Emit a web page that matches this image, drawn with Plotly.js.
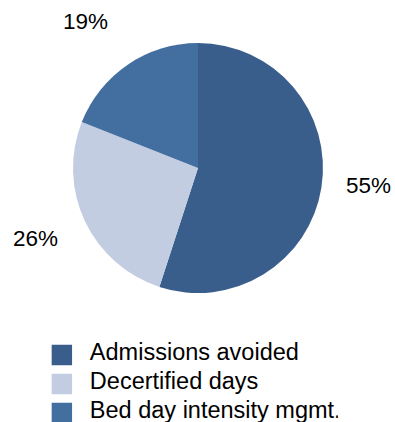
<!DOCTYPE html>
<html>
<head>
<meta charset="utf-8">
<script src="https://cdn.plot.ly/plotly-3.0.1.min.js"></script>
<style>html,body{margin:0;padding:0;background:#fff;}#chart{width:395px;height:422px;}</style>
</head>
<body>
<div id="chart"></div>
<script>
// ---- data ----
var categories = ["Admissions avoided", "Decertified days", "Bed day intensity mgmt."];
var shares = [55, 26, 19];
var sliceColors = ["#3A5E8C", "#C3CDE2", "#426EA0"];

// ---- layout constants ----
var W = 395, H = 422;
var pieDomain = {x: [0.1848, 0.8177], y: [0.3057, 0.898]};
var labelRadiusFactor = [1.37, 1.414, 1.478];   // label distance / pie radius
var labelAngleShift = [-3.1, 1.8, -3.3];         // degrees, nudge from slice middle
var FONT = "Liberation Sans, Arial, sans-serif";

var trace = {
  type: "pie",
  labels: categories,
  values: shares,
  sort: false,
  direction: "clockwise",
  rotation: 0,
  marker: {colors: sliceColors, line: {width: 0}},
  textinfo: "none",
  hoverinfo: "none",
  domain: pieDomain
};

// percent labels placed outside along each slice's middle direction
var total = shares.reduce(function (a, b) { return a + b; }, 0);
var cxPx = (pieDomain.x[0] + pieDomain.x[1]) / 2 * W;
var cyPx = (1 - (pieDomain.y[0] + pieDomain.y[1]) / 2) * H;
var rPx = Math.min((pieDomain.x[1] - pieDomain.x[0]) * W, (pieDomain.y[1] - pieDomain.y[0]) * H) / 2;
var annotations = [];
var cum = 0;
shares.forEach(function (v, i) {
  var mid = (cum + v / 2) / total * 360 + labelAngleShift[i];
  cum += v;
  var a = mid * Math.PI / 180;
  var d = rPx * labelRadiusFactor[i];
  var px = cxPx + d * Math.sin(a);
  var py = cyPx - d * Math.cos(a);
  annotations.push({
    xref: "paper", yref: "paper",
    x: px / W, y: 1 - py / H,
    xanchor: "center", yanchor: "middle",
    text: Math.round(v / total * 100) + "%",
    showarrow: false,
    font: {family: FONT, size: 22.5, color: "#000"}
  });
});

var layout = {
  width: W, height: H,
  margin: {l: 0, r: 0, t: 0, b: 0, autoexpand: false},
  paper_bgcolor: "#fff",
  showlegend: true,
  legend: {
    x: 0.106, y: 0.215, xanchor: "left", yanchor: "top",
    font: {family: FONT, size: 23.5, color: "#000"},
    tracegroupgap: 0
  },
  annotations: annotations,
  font: {family: FONT}
};

var legendRowY = [355, 384, 413];  // symbol centres, px from top
var legendTextShift = {x: 8, y: -4};

Plotly.newPlot("chart", [trace], layout, {displayModeBar: false, staticPlot: true}).then(function (gd) {
  var items = gd.querySelectorAll(".legend .traces");
  items.forEach(function (g, i) {
    var pt = g.querySelector(".legendpoints path");
    if (pt) {
      var t0 = pt.getAttribute("transform") || "";
      pt.setAttribute("transform", t0 + " scale(1.7)");
    }
    var txt = g.querySelector(".legendtext");
    if (txt) txt.setAttribute("transform", "translate(" + legendTextShift.x + "," + legendTextShift.y + ")");
    if (pt && legendRowY[i] !== undefined) {
      var bb = pt.getBoundingClientRect();
      var cur = bb.top + bb.height / 2;
      var delta = legendRowY[i] - cur;
      var tr = g.getAttribute("transform") || "translate(0,0)";
      var m = tr.match(/translate\(\s*([-\d.e]+)[ ,]+([-\d.e]+)\s*\)/);
      var tx = m ? parseFloat(m[1]) : 0, ty = m ? parseFloat(m[2]) : 0;
      g.setAttribute("transform", "translate(" + tx + "," + (ty + delta) + ")");
    }
  });
});
</script>
</body>
</html>
